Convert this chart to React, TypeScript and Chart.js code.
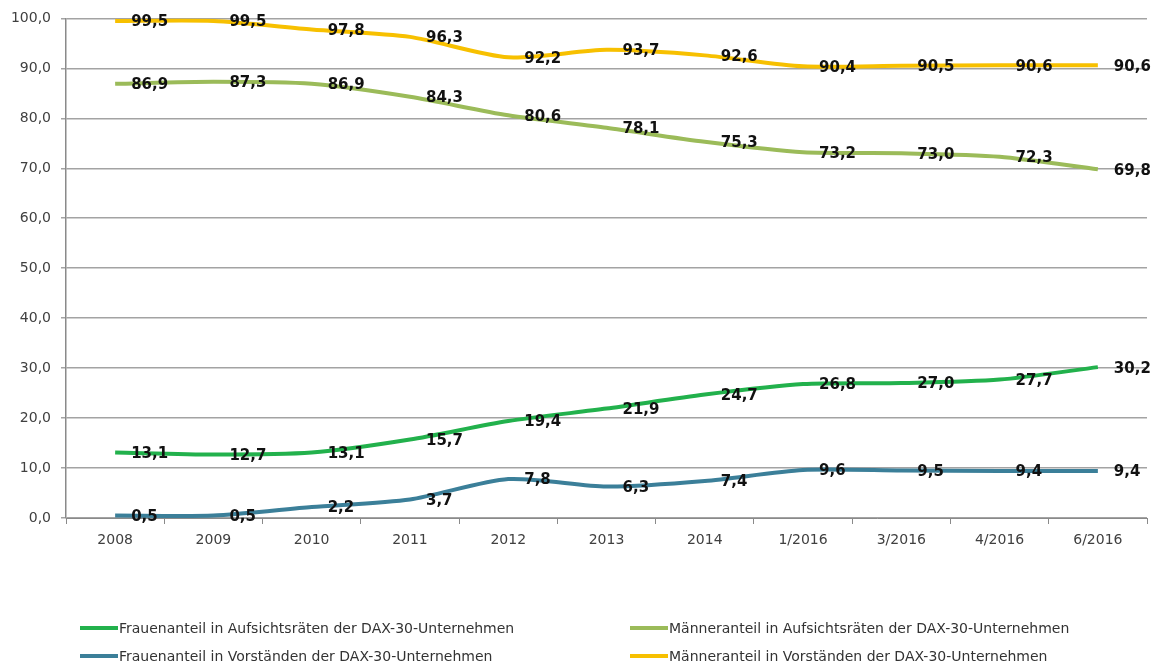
import React, { useEffect, useRef } from "react";
import { Chart, registerables } from "chart.js";

Chart.register(...registerables);

const categories = ["2008", "2009", "2010", "2011", "2012", "2013", "2014", "1/2016", "3/2016", "4/2016", "6/2016"];
const frauenAR = [13.1, 12.7, 13.1, 15.7, 19.4, 21.9, 24.7, 26.8, 27.0, 27.7, 30.2];
const maennerAR = [86.9, 87.3, 86.9, 84.3, 80.6, 78.1, 75.3, 73.2, 73.0, 72.3, 69.8];
const frauenVS = [0.5, 0.5, 2.2, 3.7, 7.8, 6.3, 7.4, 9.6, 9.5, 9.4, 9.4];
const maennerVS = [99.5, 99.5, 97.8, 96.3, 92.2, 93.7, 92.6, 90.4, 90.5, 90.6, 90.6];

const seriesNames = [
  "Frauenanteil in Aufsichtsräten der DAX-30-Unternehmen",
  "Männeranteil in Aufsichtsräten der DAX-30-Unternehmen",
  "Frauenanteil in Vorständen der DAX-30-Unternehmen",
  "Männeranteil in Vorständen der DAX-30-Unternehmen",
];
const seriesColors = ["#22B14C", "#9BBB59", "#3B7F99", "#F7C000"];

const fmt = (v: number) => v.toFixed(1).replace(".", ",");
const FONT = '"DejaVu Sans", sans-serif';

const labelPlugin = {
  id: "valueLabels",
  afterDatasetsDraw(chart: any) {
    const ctx = chart.ctx;
    ctx.save();
    ctx.font = 'bold 15px "DejaVu Sans", sans-serif';
    ctx.fillStyle = "#111";
    ctx.textAlign = "left";
    ctx.textBaseline = "middle";
    chart.data.datasets.forEach((ds: any, i: number) => {
      const meta = chart.getDatasetMeta(i);
      meta.data.forEach((pt: any, j: number) => {
        ctx.fillText(fmt(ds.data[j]), pt.x + 16, pt.y + 1.5);
      });
    });
    ctx.restore();
  },
};

export default function App() {
  const ref = useRef<HTMLCanvasElement | null>(null);
  useEffect(() => {
    if (!ref.current) return;
    const data = [frauenAR, maennerAR, frauenVS, maennerVS];
    const chart = new Chart(ref.current, {
      type: "line",
      data: {
        labels: categories,
        datasets: data.map((d, i) => ({
          label: seriesNames[i],
          data: d,
          borderColor: seriesColors[i],
          backgroundColor: seriesColors[i],
          borderWidth: 4,
          pointRadius: 0,
          tension: 0.25,
          fill: false,
        })),
      },
      options: {
        animation: false,
        responsive: false,
        maintainAspectRatio: false,
        layout: { padding: { left: 0, right: 13, top: 15, bottom: 120 } },
        plugins: {
          legend: { display: false },
          tooltip: { enabled: false },
        },
        scales: {
          x: {
            offset: true,
            grid: {
              display: true,
              drawOnChartArea: false,
              drawTicks: true,
              tickLength: 6,
              offset: true,
              color: "#8a8a8a",
            },
            border: { color: "#8a8a8a", width: 1 },
            ticks: {
              color: "#404040",
              padding: 8,
              font: { family: FONT, size: 14 },
              maxRotation: 0,
            },
            afterFit(scale: any) {
              scale.height = 30;
            },
          },
          y: {
            min: 0,
            max: 100,
            ticks: {
              stepSize: 10,
              color: "#404040",
              padding: 10,
              font: { family: FONT, size: 14 },
              callback: (v: any) => fmt(Number(v)),
            },
            grid: {
              color: "#a3a3a3",
              lineWidth: 1.5,
              tickLength: 5,
              drawTicks: true,
            },
            border: { color: "#8a8a8a", width: 1.5 },
            afterFit(scale: any) {
              scale.width = 66;
            },
          },
        },
      },
      plugins: [labelPlugin],
    });
    return () => chart.destroy();
  }, []);

  const legendItem = (i: number, left: number, top: number) => (
    <div
      key={i}
      style={{
        position: "absolute",
        left,
        top,
        height: 20,
        display: "flex",
        alignItems: "center",
        fontFamily: FONT,
        fontSize: 14,
        color: "#333",
        whiteSpace: "nowrap",
      }}
    >
      <span style={{ display: "inline-block", width: 38, height: 4, background: seriesColors[i], marginRight: 1 }} />
      <span>{seriesNames[i]}</span>
    </div>
  );

  return (
    <div style={{ position: "fixed", left: 0, top: 0, width: 1160, height: 668, background: "#fff" }}>
      <canvas ref={ref} width={1160} height={668} style={{ width: 1160, height: 668, display: "block" }} />
      {legendItem(0, 80, 618)}
      {legendItem(1, 630, 618)}
      {legendItem(2, 80, 646)}
      {legendItem(3, 630, 646)}
    </div>
  );
}
